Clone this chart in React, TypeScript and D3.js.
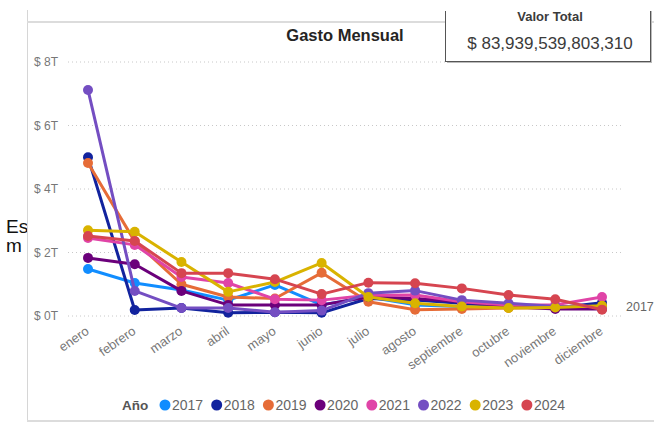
import React from "react";
import * as d3 from "d3";

const months = ["enero","febrero","marzo","abril","mayo","junio","julio","agosto","septiembre","octubre","noviembre","diciembre"];
const years = ["2017","2018","2019","2020","2021","2022","2023","2024"];
const colors = ["#118DFF","#12239E","#E66C37","#6B007B","#E044A7","#744EC2","#D9B300","#D64550"];
const s2017 = [1.48, 1.04, 0.82, 0.5, 0.98, 0.35, 0.6, 0.35, 0.3, 0.27, 0.27, 0.3];
const s2018 = [5.0, 0.19, 0.25, 0.1, 0.12, 0.1, 0.55, 0.5, 0.4, 0.3, 0.25, 0.42];
const s2019 = [4.82, 2.35, 1.0, 0.6, 0.55, 1.36, 0.45, 0.2, 0.22, 0.25, 0.25, 0.25];
const s2020 = [1.83, 1.63, 0.79, 0.35, 0.35, 0.35, 0.6, 0.55, 0.45, 0.3, 0.22, 0.22];
const s2021 = [2.46, 2.24, 1.23, 1.04, 0.53, 0.5, 0.65, 0.66, 0.45, 0.35, 0.35, 0.6];
const s2022 = [7.12, 0.79, 0.25, 0.25, 0.12, 0.17, 0.72, 0.8, 0.5, 0.4, 0.3, 0.3];
const s2023 = [2.7, 2.65, 1.7, 0.76, 1.07, 1.67, 0.6, 0.4, 0.3, 0.25, 0.27, 0.32];
const s2024 = [2.52, 2.36, 1.35, 1.35, 1.16, 0.69, 1.05, 1.03, 0.87, 0.66, 0.53, 0.2];
const series = [s2017, s2018, s2019, s2020, s2021, s2022, s2023, s2024];
const yTicks = [0, 2, 4, 6, 8];
const title = "Gasto Mensual";
const cardTitle = "Valor Total";
const cardValue = "$ 83,939,539,803,310";

export default function App() {
  const x = d3.scalePoint<string>().domain(months).range([88, 602]);
  const y = d3.scaleLinear().domain([0, 8]).range([316, 62]);
  const line = d3.line<number>().x((_, i) => x(months[i]) as number).y((d) => y(d));
  const font = "'Liberation Sans', Arial, sans-serif";
  return (
    <svg width={654} height={425} style={{ position: "absolute", left: 0, top: 0, background: "#fff" }} fontFamily={font}>
      <defs>
        <clipPath id="cardclip"><rect x={440} y={11} width={214} height={60} /></clipPath>
      </defs>
      <text x={6} y={233} fontSize={19} fill="#111">Es</text>
      <text x={6} y={252} fontSize={19} fill="#111">m</text>
      <rect x={28} y={23} width={626} height={398} fill="#fff" />
      <line x1={27.5} x2={27.5} y1={10} y2={421} stroke="#d6d6d6" strokeWidth={1} />
      <line x1={27} x2={654} y1={22} y2={22} stroke="#dcdcdc" strokeWidth={2} />
      <line x1={27} x2={654} y1={421} y2={421} stroke="#dcdcdc" strokeWidth={2} />
      <text x={345} y={41} textAnchor="middle" fontSize={16.5} fontWeight="bold" fill="#252423">{title}</text>
      {yTicks.map((t) => (
        <g key={t}>
          <line x1={68} x2={622} y1={y(t)} y2={y(t)} stroke="#c8c8c8" strokeDasharray="1,3" />
          <text x={58} y={y(t)} dy="0.35em" textAnchor="end" fontSize={12} fill="#777">{`$ ${t}T`}</text>
        </g>
      ))}
      {months.map((m) => (
        <text key={m} transform={`translate(${(x(m) as number) + 2},333) rotate(-35)`} textAnchor="end" fontSize={13} fill="#777">{m}</text>
      ))}
      {series.map((s, i) => (
        <g key={years[i]}>
          <path d={line(s) || ""} fill="none" stroke={colors[i]} strokeWidth={3} strokeLinejoin="round" />
          {s.map((v, j) => (
            <circle key={j} cx={x(months[j]) as number} cy={y(v)} r={5} fill={colors[i]} />
          ))}
        </g>
      ))}
      <text x={626} y={307} dy="0.35em" fontSize={12.5} fill="#666">2017</text>
      <text x={122} y={410} fontSize={13.5} fontWeight="bold" fill="#555">Año</text>
      {years.map((yr, i) => (
        <g key={yr} transform={`translate(${165 + i * 51.7},405)`}>
          <circle r={5.5} fill={colors[i]} />
          <text x={7} y={0} dy="0.36em" fontSize={14} fill="#666">{yr}</text>
        </g>
      ))}
      <g clipPath="url(#cardclip)">
        <rect x={447} y={3} width={205} height={60} fill="#bbb" />
        <rect x={445.5} y={1.5} width={205} height={60} fill="#fff" stroke="#555" strokeWidth={1} />
        <text x={550} y={21} textAnchor="middle" fontSize={13} fontWeight="bold" fill="#3b3b3b">{cardTitle}</text>
        <text x={550} y={49} textAnchor="middle" fontSize={17} fill="#3b3b3b">{cardValue}</text>
      </g>
    </svg>
  );
}
